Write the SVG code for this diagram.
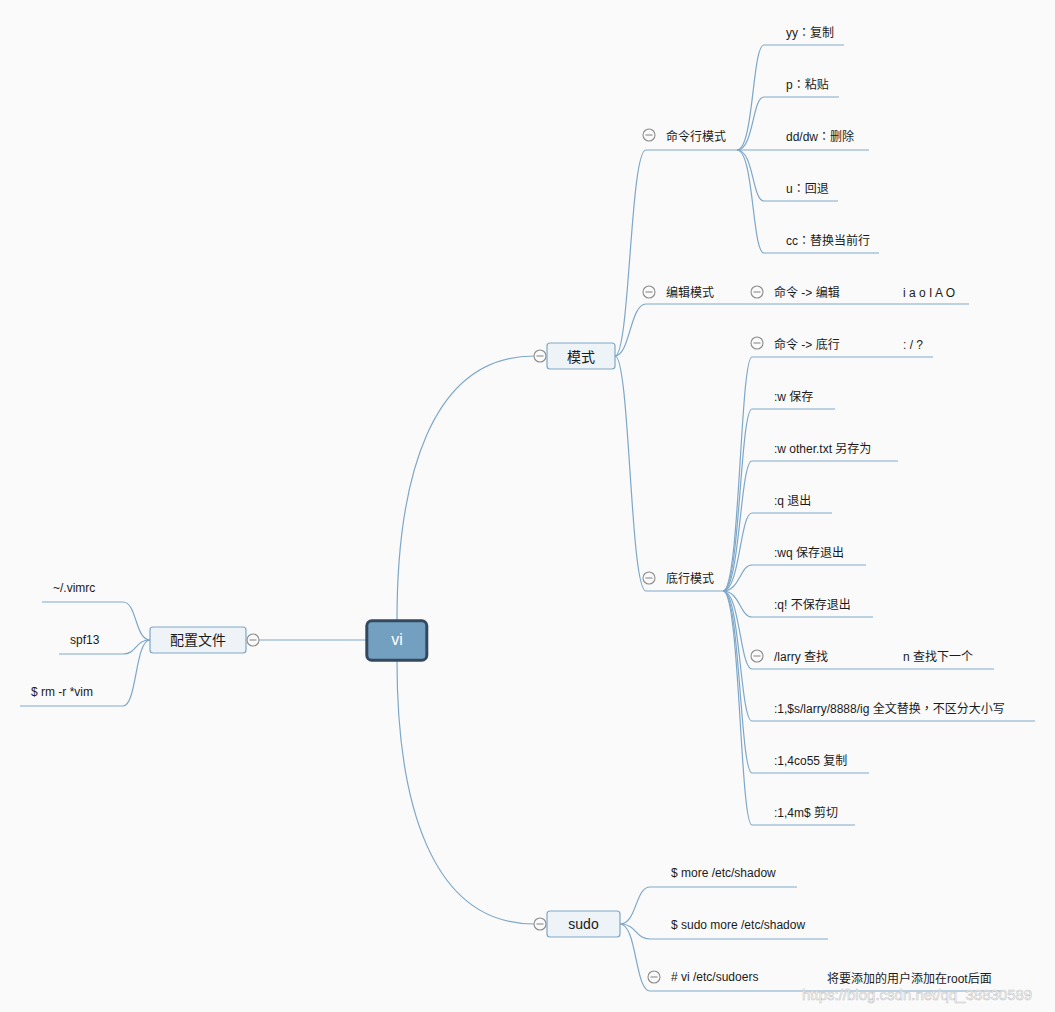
<svg xmlns="http://www.w3.org/2000/svg" width="1055" height="1012" viewBox="0 0 1055 1012">
<style>
  .bg { fill: #fafafa; }
  .ln { fill: none; stroke: #7ea7c8; stroke-width: 1.2; }
  .t { font-family: "Liberation Sans", "Noto Sans CJK SC", sans-serif; font-size: 12px; fill: #1a1a1a; }
  .p { font-family: "Noto Sans CJK TC", sans-serif; }
  .nt { font-family: "Liberation Sans", "Noto Sans CJK SC", sans-serif; font-size: 14px; fill: #1a1a1a; text-anchor: middle; }
  .box { fill: #eef3f7; stroke: #7ea7c8; stroke-width: 1.2; }
  .root { fill: #73a0c0; stroke: #34495e; stroke-width: 3; }
  .rt { font-family: "Liberation Sans", "Noto Sans CJK SC", sans-serif; font-size: 16px; fill: #ffffff; text-anchor: middle; }
  .cc { fill: #fafafa; stroke: #8c8c8c; stroke-width: 1.1; }
  .cl { stroke: #8c8c8c; stroke-width: 1.1; }
  .wm { font-family: "Liberation Sans", sans-serif; font-size: 15px; fill: #ffffff; stroke: #c8c8c8; stroke-width: 0.6; }
</style>
<defs>
  <g id="collapse"><circle class="cc" cx="0" cy="0" r="6"/><line class="cl" x1="-3.5" y1="0" x2="3.5" y2="0"/></g>
</defs>
<rect class="bg" x="0" y="0" width="1055" height="1012"/>

<g id="connectors">
  <path class="ln" d="M397,620 C397,480 430,356 534,356"/>
  <path class="ln" d="M397,661 C397,800 430,924 534,924"/>
  <path class="ln" d="M366,640 L259,640"/>
  <path class="ln" d="M615,356 C630,356 630,150 646,150 L737,150"/>
  <path class="ln" d="M615,356 C630,356 630,304 646,304 L969,304"/>
  <path class="ln" d="M615,356 C630,356 630,591 646,591 L723,591"/>
  <path class="ln" d="M737,150 C754,150 752,45 764,45 L844,45"/>
  <path class="ln" d="M737,150 C754,150 752,97 764,97 L839,97"/>
  <path class="ln" d="M737,150 L869,150"/>
  <path class="ln" d="M737,150 C754,150 752,201 764,201 L838,201"/>
  <path class="ln" d="M737,150 C754,150 752,253 764,253 L879,253"/>
  <path class="ln" d="M723,591 C740,591 740,357 752,357 L933,357"/>
  <path class="ln" d="M723,591 C740,591 740,409 752,409 L835,409"/>
  <path class="ln" d="M723,591 C740,591 740,461 752,461 L898,461"/>
  <path class="ln" d="M723,591 C740,591 740,513 752,513 L832,513"/>
  <path class="ln" d="M723,591 C740,591 740,565 752,565 L866,565"/>
  <path class="ln" d="M723,591 C740,591 740,617 752,617 L873,617"/>
  <path class="ln" d="M723,591 C740,591 740,669 752,669 L994,669"/>
  <path class="ln" d="M723,591 C740,591 740,721 752,721 L1035,721"/>
  <path class="ln" d="M723,591 C740,591 740,773 752,773 L869,773"/>
  <path class="ln" d="M723,591 C740,591 740,825 752,825 L855,825"/>
  <path class="ln" d="M620,924 C637,924 635,887 650,887 L797,887"/>
  <path class="ln" d="M620,924 C637,924 635,939 650,939 L828,939"/>
  <path class="ln" d="M620,924 C637,924 635,991 650,991 L1003,991"/>
  <path class="ln" d="M150,640 C135,640 137,602 123,602 L42,602"/>
  <path class="ln" d="M150,640 C135,640 137,654 123,654 L59,654"/>
  <path class="ln" d="M150,640 C135,640 137,706 123,706 L20,706"/>
</g>

<g id="node-vi">
  <rect class="root" x="366.8" y="620.8" width="60" height="39.4" rx="5"/>
  <text class="rt" x="397" y="645">vi</text>
</g>

<g id="node-moshi">
  <rect class="box" x="547" y="343" width="68" height="26" rx="3"/>
  <text class="nt" x="581" y="361.5">模式</text>
  <use href="#collapse" x="540" y="356"/>
</g>

<g id="node-sudo">
  <rect class="box" x="547" y="911" width="73" height="26" rx="3"/>
  <text class="nt" x="583.5" y="929">sudo</text>
  <use href="#collapse" x="540" y="924"/>
</g>

<g id="node-peizhi">
  <rect class="box" x="150" y="627" width="96" height="26" rx="3"/>
  <text class="nt" x="198" y="645">配置文件</text>
  <use href="#collapse" x="253" y="640"/>
</g>

<g id="node-mingling">
  <use href="#collapse" x="649" y="135"/>
  <text class="t" x="666" y="141">命令行模式</text>
</g>
<g id="node-yy"><text class="t" x="786" y="37">yy<tspan class="p">：</tspan>复制</text></g>
<g id="node-p"><text class="t" x="786" y="89">p<tspan class="p">：</tspan>粘贴</text></g>
<g id="node-dd"><text class="t" x="786" y="141">dd/dw<tspan class="p">：</tspan>删除</text></g>
<g id="node-u"><text class="t" x="786" y="193">u<tspan class="p">：</tspan>回退</text></g>
<g id="node-cc"><text class="t" x="786" y="245">cc<tspan class="p">：</tspan>替换当前行</text></g>

<g id="node-bianji">
  <use href="#collapse" x="649" y="292"/>
  <text class="t" x="666" y="297">编辑模式</text>
</g>
<g id="node-cmd-edit">
  <use href="#collapse" x="757" y="292"/>
  <text class="t" x="774" y="297">命令 -&gt; 编辑</text>
</g>
<g id="node-iao"><text class="t" x="903" y="297">i a o I A O</text></g>

<g id="node-dihang">
  <use href="#collapse" x="649" y="578"/>
  <text class="t" x="666" y="583">底行模式</text>
</g>
<g id="node-cmd-bottom">
  <use href="#collapse" x="757" y="343"/>
  <text class="t" x="774" y="349">命令 -&gt; 底行</text>
</g>
<g id="node-colon"><text class="t" x="903" y="349">: / ?</text></g>
<g id="node-w"><text class="t" x="774" y="401">:w 保存</text></g>
<g id="node-wother"><text class="t" x="774" y="453">:w other.txt 另存为</text></g>
<g id="node-q"><text class="t" x="774" y="505">:q 退出</text></g>
<g id="node-wq"><text class="t" x="774" y="557">:wq 保存退出</text></g>
<g id="node-qbang"><text class="t" x="774" y="609">:q! 不保存退出</text></g>
<g id="node-larry">
  <use href="#collapse" x="757" y="656"/>
  <text class="t" x="774" y="661">/larry 查找</text>
</g>
<g id="node-n"><text class="t" x="903" y="661">n 查找下一个</text></g>
<g id="node-subst"><text class="t" x="774" y="713">:1,$s/larry/8888/ig 全文替换<tspan class="p">，</tspan>不区分大小写</text></g>
<g id="node-co"><text class="t" x="774" y="765">:1,4co55 复制</text></g>
<g id="node-m"><text class="t" x="774" y="817">:1,4m$ 剪切</text></g>

<g id="node-more"><text class="t" x="671" y="877">$ more /etc/shadow</text></g>
<g id="node-sudomore"><text class="t" x="671" y="929">$ sudo more /etc/shadow</text></g>
<g id="node-visudo">
  <use href="#collapse" x="654" y="977"/>
  <text class="t" x="671" y="981"># vi /etc/sudoers</text>
</g>
<g id="node-add"><text class="t" x="827" y="983">将要添加的用户添加在root后面</text></g>

<g id="node-vimrc"><text class="t" x="53" y="592">~/.vimrc</text></g>
<g id="node-spf13"><text class="t" x="70" y="644">spf13</text></g>
<g id="node-rm"><text class="t" x="31" y="696">$ rm -r *vim</text></g>

<text class="wm" x="802" y="1000">https://blog.csdn.net/qq_38830589</text>
</svg>
